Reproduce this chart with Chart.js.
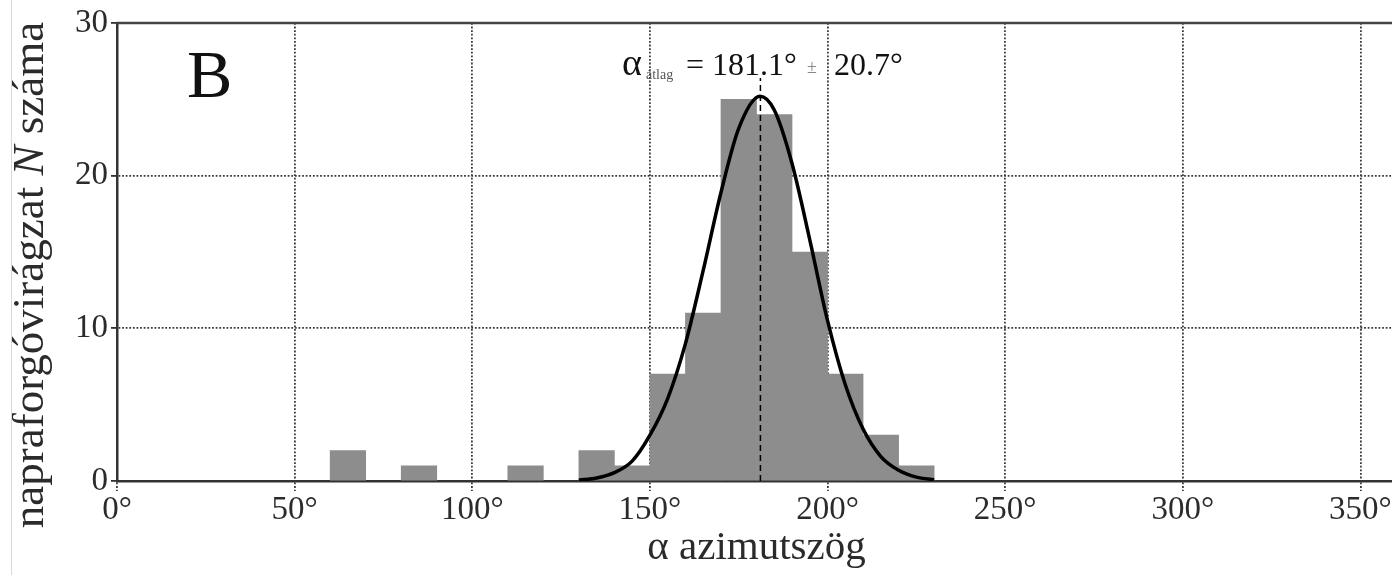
<!DOCTYPE html>
<html>
<head>
<meta charset="utf-8">
<script src="https://cdn.jsdelivr.net/npm/chart.js@4"></script>
<style>
  html, body { margin: 0; padding: 0; background: #fff; overflow: hidden; }
  #wrap { position: relative; width: 1396px; height: 575px; }
  #edge { position: absolute; left: 11px; top: 0; width: 1px; height: 575px; background: #d8d8d8; }
</style>
</head>
<body>
<div id="wrap">
  <canvas id="chartAzimut"></canvas>
  <div id="edge"></div>
</div>
<script>
// bin start (degrees) and count for each 10 degree bin with data
const binStarts = [60, 80, 110, 130, 140, 150, 160, 170, 180, 190, 200, 210, 220];
const counts    = [2, 1, 1, 2, 1, 7, 11, 25, 24, 15, 7, 3, 1];

// fitted curve
const curveAngles = [130, 135, 140, 145, 150, 155, 160, 165, 170, 175, 181, 185, 190, 195, 200, 205, 210, 215, 220, 225, 230];
const curveValues = [0.05, 0.2, 0.55, 1.3, 3.0, 5.4, 9.0, 13.8, 18.9, 23.1, 25.2, 24.3, 20.8, 15.8, 10.5, 6.3, 3.4, 1.6, 0.7, 0.25, 0.08];

const meanAngle = 181.1;
const meanLineTop = 26.4;

const xTicks = [0, 50, 100, 150, 200, 250, 300, 350];
const yTicks = [0, 10, 20, 30];

const serif = '"Liberation Serif", "Times New Roman", serif';
const ink = '#2b2b2b';

const textPlugin = {
  id: 'texts',
  afterDraw(chart) {
    const c = chart.ctx;
    const a = chart.chartArea;
    c.save();
    // top frame line
    c.strokeStyle = '#444';
    c.lineWidth = 2.5;
    c.beginPath();
    c.moveTo(a.left, a.top);
    c.lineTo(a.right, a.top);
    c.stroke();

    c.fillStyle = '#111';
    c.textBaseline = 'alphabetic';
    c.textAlign = 'left';
    c.font = '68px ' + serif;
    c.fillText('B', 187, 97);

    // mean annotation
    const y = 75;
    c.font = '38px ' + serif;
    c.fillText('\u03b1', 622, y);
    c.font = '14px ' + serif;
    c.fillStyle = '#555';
    c.fillText('\u00e1tlag', 646, y + 4);
    c.fillStyle = '#111';
    c.font = '32px ' + serif;
    c.fillText('= 181.1\u00b0', 686, y);
    c.font = '18px ' + serif;
    c.fillStyle = '#888';
    c.fillText('\u00b1', 807, y - 2);
    c.fillStyle = '#111';
    c.font = '32px ' + serif;
    c.fillText('20.7\u00b0', 834, y);

    // y axis title with italic N
    c.translate(31, 275);
    c.rotate(-Math.PI / 2);
    c.fillStyle = ink;
    c.textBaseline = 'middle';
    const parts = [['napraforg\u00f3vir\u00e1gzat ', ''], ['N', 'italic '], [' sz\u00e1ma', '']];
    let total = 0;
    parts.forEach(p => { c.font = p[1] + '45px ' + serif; total += c.measureText(p[0]).width; });
    let px = -total / 2;
    parts.forEach(p => {
      c.font = p[1] + '45px ' + serif;
      c.fillText(p[0], px, 0);
      px += c.measureText(p[0]).width;
    });
    c.restore();
  }
};

const ctx = document.getElementById('chartAzimut');

new Chart(ctx, {
  type: 'bar',
  data: {
    datasets: [
      {
        type: 'line',
        label: 'illesztett',
        data: curveAngles.map((a, i) => ({ x: a, y: curveValues[i] })),
        borderColor: '#000',
        borderWidth: 3.5,
        pointRadius: 0,
        cubicInterpolationMode: 'monotone',
        fill: false,
        order: 0
      },
      {
        type: 'line',
        label: 'atlag',
        data: [{ x: meanAngle, y: 0 }, { x: meanAngle, y: meanLineTop }],
        borderColor: '#000',
        borderWidth: 1.5,
        borderDash: [6, 4],
        pointRadius: 0,
        order: 1
      },
      {
        label: 'N',
        data: binStarts.map((b, i) => ({ x: b + 5, y: counts[i] })),
        backgroundColor: '#8d8d8d',
        borderWidth: 0,
        barPercentage: 1,
        categoryPercentage: 1,
        order: 2
      }
    ]
  },
  options: {
    responsive: true,
    maintainAspectRatio: false,
    animation: false,
    layout: { padding: { top: 23, left: 0, right: 0, bottom: 0 } },
    plugins: {
      legend: { display: false },
      tooltip: { enabled: false }
    },
    scales: {
      x: {
        type: 'linear',
        min: 0,
        max: 360,
        offset: false,
        z: 1,
        afterFit: s => { s.height = 94; },
        afterBuildTicks: s => { s.ticks = xTicks.map(v => ({ value: v })); },
        ticks: {
          font: { family: serif, size: 33 },
          color: ink,
          padding: 0,
          maxRotation: 0,
          callback: v => v + '\u00b0'
        },
        grid: {
          color: '#3a3a3a',
          lineWidth: 1.8,
          tickLength: 10,
          tickColor: '#3a3a3a',
          tickBorderDash: [1.8, 1.8],
          offset: false
        },
        border: { color: '#333', width: 2.5, dash: [1.8, 1.8] },
        title: {
          display: true,
          text: '\u03b1 azimutsz\u00f6g',
          font: { family: serif, size: 41 },
          color: ink,
          padding: { top: 0, bottom: 2 }
        }
      },
      y: {
        min: 0,
        max: 30,
        z: 1,
        afterFit: s => { s.width = 117; },
        afterBuildTicks: s => { s.ticks = yTicks.map(v => ({ value: v })); },
        ticks: {
          font: { family: serif, size: 33 },
          color: ink,
          padding: 3
        },
        grid: {
          color: '#3a3a3a',
          lineWidth: 1.8,
          tickLength: 6,
          tickColor: '#333'
        },
        border: { color: '#333', width: 2.5, dash: [1.8, 1.8] }
      }
    }
  },
  plugins: [textPlugin]
});
</script>
</body>
</html>
